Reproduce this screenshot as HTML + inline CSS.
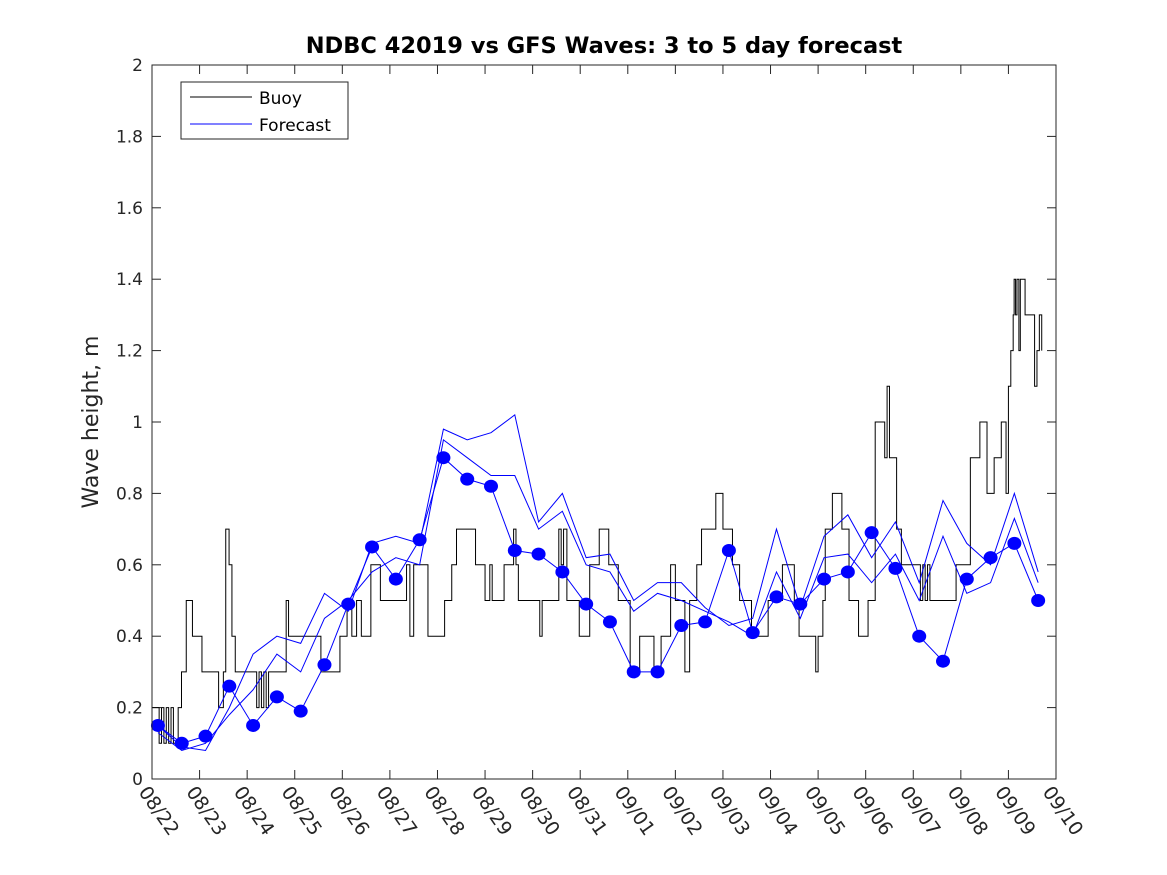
<!DOCTYPE html>
<html><head><meta charset="utf-8"><style>
body{margin:0;background:#fff;}
svg{display:block;font-family:"DejaVu Sans","Liberation Sans",sans-serif;}
</style></head><body>
<svg id="chart" width="1167" height="875" viewBox="0 0 1167 875" xmlns="http://www.w3.org/2000/svg">
<rect width="1167" height="875" fill="#fff"/>
<text x="604" y="53" text-anchor="middle" font-size="22.5" font-weight="bold" fill="#000">NDBC 42019 vs GFS Waves: 3 to 5 day forecast</text>
<g id="grid"></g>
<g id="series"></g>
<rect x="152" y="65" width="904" height="714" fill="none" stroke="#262626" stroke-width="1"/>
<text transform="translate(98,422) rotate(-90)" text-anchor="middle" font-size="22" fill="#262626">Wave height, m</text>
<g>
<rect x="181" y="82" width="167" height="57" fill="#fff" stroke="#262626" stroke-width="1"/>
<line x1="190" y1="97" x2="252" y2="97" stroke="#000" stroke-width="1"/>
<text x="259" y="104" font-size="17" fill="#000">Buoy</text>
<line x1="190" y1="124" x2="252" y2="124" stroke="#0000ff" stroke-width="1"/>
<text x="259" y="131" font-size="17" fill="#000">Forecast</text>
</g>
</svg>
<script>
const xTickLabels=["08/22","08/23","08/24","08/25","08/26","08/27","08/28","08/29","08/30","08/31","09/01","09/02","09/03","09/04","09/05","09/06","09/07","09/08","09/09","09/10"];
const yTicks=[0,0.2,0.4,0.6,0.8,1,1.2,1.4,1.6,1.8,2];
const yTickLabels=["0","0.2","0.4","0.6","0.8","1","1.2","1.4","1.6","1.8","2"];
const buoyDays=[0,0.15,0.2,0.25,0.3,0.35,0.4,0.45,0.55,0.62,0.72,0.85,1.05,1.4,1.5,1.55,1.62,1.68,1.75,2.2,2.25,2.3,2.35,2.4,2.45,2.82,2.87,2.92,3.55,3.95,4.1,4.2,4.3,4.4,4.6,4.8,5.35,5.42,5.5,5.8,6.15,6.3,6.4,6.8,7.0,7.1,7.15,7.4,7.6,7.65,7.7,7.95,8.15,8.2,8.55,8.6,8.65,8.72,8.98,9.2,9.4,9.6,9.8,10.05,10.25,10.55,10.7,10.9,11.0,11.2,11.3,11.45,11.55,11.85,12.0,12.2,12.35,12.6,12.95,13.25,13.5,13.6,13.95,14.0,14.1,14.15,14.3,14.5,14.65,14.85,15.05,15.2,15.4,15.45,15.5,15.65,15.75,16.15,16.2,16.25,16.3,16.35,16.45,16.9,17.2,17.4,17.55,17.7,17.85,17.95,18.0,18.05,18.1,18.12,18.15,18.18,18.22,18.25,18.35,18.55,18.6,18.65,18.7];
const buoyVals=[0.2,0.1,0.2,0.1,0.2,0.1,0.2,0.1,0.2,0.3,0.5,0.4,0.3,0.2,0.3,0.7,0.6,0.4,0.3,0.2,0.3,0.2,0.3,0.2,0.3,0.5,0.4,0.4,0.3,0.4,0.5,0.4,0.5,0.4,0.6,0.5,0.6,0.4,0.6,0.4,0.5,0.6,0.7,0.6,0.5,0.6,0.5,0.6,0.7,0.6,0.5,0.5,0.4,0.5,0.7,0.6,0.7,0.5,0.4,0.6,0.7,0.6,0.5,0.3,0.4,0.3,0.4,0.6,0.5,0.3,0.5,0.6,0.7,0.8,0.7,0.6,0.5,0.4,0.5,0.6,0.5,0.4,0.3,0.4,0.5,0.7,0.8,0.7,0.5,0.4,0.5,1.0,0.9,1.1,0.9,0.7,0.6,0.5,0.6,0.5,0.6,0.5,0.5,0.6,0.9,1.0,0.8,0.9,1.0,0.8,1.1,1.2,1.3,1.4,1.3,1.4,1.2,1.4,1.3,1.1,1.2,1.3,1.2,1.4];
const fcDays=[0.125,0.625,1.125,1.625,2.125,2.625,3.125,3.625,4.125,4.625,5.125,5.625,6.125,6.625,7.125,7.625,8.125,8.625,9.125,9.625,10.125,10.625,11.125,11.625,12.125,12.625,13.125,13.625,14.125,14.625,15.125,15.625,16.125,16.625,17.125,17.625,18.125,18.625];
const dotVals=[0.15,0.10,0.12,0.26,0.15,0.23,0.19,0.32,0.49,0.65,0.56,0.67,0.90,0.84,0.82,0.64,0.63,0.58,0.49,0.44,0.30,0.30,0.43,0.44,0.64,0.41,0.51,0.49,0.56,0.58,0.69,0.59,0.40,0.33,0.56,0.62,0.66,0.50];
const fcUpper=[0.15,0.09,0.08,0.20,0.35,0.40,0.38,0.52,0.47,0.66,0.68,0.66,0.98,0.95,0.97,1.02,0.72,0.80,0.62,0.63,0.50,0.55,0.55,0.48,0.43,0.45,0.70,0.48,0.68,0.74,0.62,0.72,0.55,0.78,0.66,0.60,0.80,0.58];
const fcMid=[0.13,0.08,0.10,0.18,0.25,0.35,0.30,0.45,0.50,0.58,0.62,0.60,0.95,0.90,0.85,0.85,0.70,0.75,0.60,0.58,0.47,0.52,0.50,0.47,0.44,0.40,0.58,0.45,0.62,0.63,0.55,0.63,0.50,0.68,0.52,0.55,0.73,0.55];

const NS="http://www.w3.org/2000/svg";
const X0=152,X1=1056,Y0=779,Y1=65;
const xs=d=>X0+(X1-X0)*d/19;
const ys=v=>Y0-(Y0-Y1)*v/2;
function mk(t,a,p){const e=document.createElementNS(NS,t);for(const k in a)e.setAttribute(k,a[k]);(p||document.getElementById('series')).appendChild(e);return e;}
const grid=document.getElementById('grid');
xTickLabels.forEach((lab,i)=>{
  const x=xs(i);
  const t1=mk('line',{x1:x,y1:Y0,x2:x,y2:Y0-9,stroke:'#262626'},grid);
  
  
  const t2=mk('line',{x1:x,y1:Y1,x2:x,y2:Y1+9,stroke:'#262626'},grid);
  
  
  const tx=mk('text',{x:0,y:0,transform:`translate(${x-14},${Y0+13}) rotate(55)`,'font-size':19,fill:'#262626'},grid);
  tx.textContent=lab;
  
  
});
yTicks.forEach((v,i)=>{
  const y=ys(v);
  const t1=mk('line',{x1:X0,y1:y,x2:X0+9,y2:y,stroke:'#262626'},grid);
  
  
  const t2=mk('line',{x1:X1,y1:y,x2:X1-9,y2:y,stroke:'#262626'},grid);
  
  
  const tx=mk('text',{x:X0-9,y:y+6,'text-anchor':'end','font-size':17,fill:'#262626'},grid);
  tx.textContent=yTickLabels[i];
  
  
});
let d='';
buoyDays.forEach((dd,i)=>{
  const x=xs(dd),y=ys(buoyVals[i]);
  if(i===0)d+=`M${x},${y}`;else d+=`L${x},${ys(buoyVals[i-1])}L${x},${y}`;
});
const bl=mk('path',{d:d,fill:'none',stroke:'#000','stroke-width':1});


function poly(vals,name){
  const p=mk('polyline',{points:fcDays.map((dd,i)=>xs(dd)+','+ys(vals[i])).join(' '),fill:'none',stroke:'#0000ff','stroke-width':1});
  
  
}
poly(fcUpper,'forecast-line-upper');
poly(fcMid,'forecast-line-mid');
poly(dotVals,'forecast-line-verify');
dotVals.forEach((v,i)=>{
  const c=mk('ellipse',{cx:xs(fcDays[i]),cy:ys(v),rx:7,ry:6.5,fill:'#0000ff'});
  
  
});
</script>
</body></html>
